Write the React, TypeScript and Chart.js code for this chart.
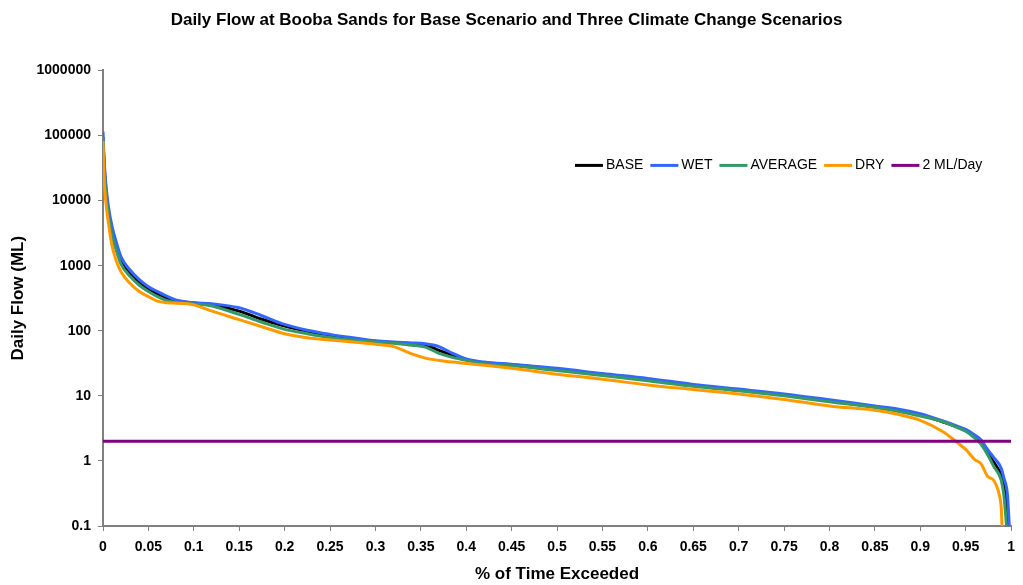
import React, { useEffect, useRef } from "react";
import { Chart, registerables } from "chart.js";

Chart.register(...registerables);

// Exceedance probabilities shared by the body of every flow-duration curve
const EXCEEDANCE = [
  0, 0.001, 0.003, 0.006, 0.01, 0.015, 0.02, 0.03, 0.04, 0.05, 0.06, 0.07, 0.08, 0.09, 0.1,
  0.12, 0.15, 0.175, 0.2, 0.225, 0.25, 0.275, 0.3, 0.32, 0.34, 0.355, 0.37, 0.385, 0.4, 0.42,
  0.45, 0.5, 0.55, 0.6, 0.65, 0.7, 0.75, 0.8, 0.85, 0.875, 0.9, 0.925, 0.94, 0.95,
];

// Daily flow (ML) for each scenario at the exceedance values above
const BASE_FLOW = [
  95000, 40000, 15000, 6500, 3300, 1800, 1150, 740, 550, 430, 370, 320, 290, 277, 266,
  250, 200, 150, 118, 98, 85, 76, 69, 66, 63, 60, 50, 42, 36, 32,
  30, 25.5, 21, 17.5, 14.5, 12.3, 10.3, 8.3, 6.8, 6.0, 5.1, 3.95, 3.35, 2.95,
];
const WET_FLOW = [
  115000, 50000, 19000, 8000, 4000, 2200, 1350, 850, 610, 475, 400, 340, 298, 280, 270,
  260, 225, 170, 125, 102, 88, 78, 70, 67, 65, 63, 57, 45, 37, 33,
  30.5, 26.5, 22, 18.5, 15, 12.7, 10.7, 8.7, 7.0, 6.3, 5.3, 4.1, 3.45, 3.05,
];
const AVERAGE_FLOW = [
  95000, 35000, 13000, 5800, 2900, 1650, 1050, 680, 500, 400, 335, 292, 272, 265, 258,
  240, 178, 135, 105, 90, 79, 72, 67, 64, 60, 56, 45, 39, 35, 31,
  29, 24.5, 20.5, 17, 14, 12, 10, 8.1, 6.6, 5.8, 4.9, 4.0, 3.3, 2.85,
];
const DRY_FLOW = [
  82000, 25000, 10000, 4500, 2000, 1150, 800, 530, 400, 335, 285, 270, 265, 262, 250,
  200, 148, 115, 90, 78, 72, 67, 62, 57, 44, 38, 35, 33, 31.5, 29.5,
  26.5, 21.5, 18, 14.7, 12.5, 10.7, 8.8, 7.0, 6.0, 5.2, 4.2, 2.8, 1.95, 1.5,
];

// Low-flow tails, where each scenario falls away at its own exceedance
const BASE_TAIL_X = [0.96, 0.967, 0.974, 0.981, 0.989, 0.992, 0.994, 0.996];
const BASE_TAIL = [2.4, 1.95, 1.35, 0.95, 0.6, 0.4, 0.25, 0.1];
const WET_TAIL_X = [0.96, 0.967, 0.974, 0.981, 0.989, 0.992, 0.996, 0.998];
const WET_TAIL = [2.5, 2.1, 1.5, 1.12, 0.78, 0.55, 0.3, 0.1];
const AVERAGE_TAIL_X = [0.959, 0.967, 0.974, 0.981, 0.989, 0.992, 0.995];
const AVERAGE_TAIL = [2.3, 1.8, 1.25, 0.82, 0.51, 0.3, 0.1];
const DRY_TAIL_X = [0.96, 0.967, 0.974, 0.981, 0.987, 0.989, 0.99];
const DRY_TAIL = [1.05, 0.9, 0.58, 0.5, 0.3, 0.2, 0.1];

// Environmental flow threshold line
const THRESHOLD_X = [0, 1];
const THRESHOLD_FLOW = [2, 2];

const SERIES_LABELS = ["BASE", "WET", "AVERAGE", "DRY", "2 ML/Day"];
const SERIES_COLORS = ["#000000", "#3366FF", "#339966", "#FF9900", "#800080"];

const X_TICKS = [
  0, 0.05, 0.1, 0.15, 0.2, 0.25, 0.3, 0.35, 0.4, 0.45, 0.5,
  0.55, 0.6, 0.65, 0.7, 0.75, 0.8, 0.85, 0.9, 0.95, 1,
];
const Y_TICKS = [0.1, 1, 10, 100, 1000, 10000, 100000, 1000000];

const FONT = "'Liberation Sans', Arial, Helvetica, sans-serif";

function toPoints(xs: number[], ys: number[], tailX: number[] = [], tailY: number[] = []) {
  const body = xs.map((x, i) => ({ x, y: ys[i] }));
  const tail = tailX.map((x, i) => ({ x, y: tailY[i] }));
  return body.concat(tail);
}

// Legend drawn inside the plot area as a single row of line keys
const insideLegend = {
  id: "insideLegend",
  afterDraw(chart: any) {
    const { ctx, chartArea } = chart;
    ctx.save();
    ctx.font = `14px ${FONT}`;
    ctx.textBaseline = "middle";
    ctx.textAlign = "left";
    let x = chartArea.left + 472;
    const y = chartArea.top + 95;
    chart.data.datasets.forEach((ds: any) => {
      ctx.strokeStyle = ds.borderColor;
      ctx.lineWidth = 3;
      ctx.beginPath();
      ctx.moveTo(x, y);
      ctx.lineTo(x + 28, y);
      ctx.stroke();
      x += 31;
      ctx.fillStyle = "#000";
      ctx.fillText(ds.label, x, y);
      x += ctx.measureText(ds.label).width + 7;
    });
    ctx.restore();
  },
};

export default function App() {
  const canvasRef = useRef<HTMLCanvasElement | null>(null);

  useEffect(() => {
    if (!canvasRef.current) return;
    Chart.defaults.font.family = FONT;
    Chart.defaults.color = "#000";

    const seriesData = [
      toPoints(EXCEEDANCE, BASE_FLOW, BASE_TAIL_X, BASE_TAIL),
      toPoints(EXCEEDANCE, WET_FLOW, WET_TAIL_X, WET_TAIL),
      toPoints(EXCEEDANCE, AVERAGE_FLOW, AVERAGE_TAIL_X, AVERAGE_TAIL),
      toPoints(EXCEEDANCE, DRY_FLOW, DRY_TAIL_X, DRY_TAIL),
      toPoints(THRESHOLD_X, THRESHOLD_FLOW),
    ];

    const chart = new Chart(canvasRef.current, {
      type: "line",
      data: {
        datasets: seriesData.map((data, i) => ({
          label: SERIES_LABELS[i],
          data,
          borderColor: SERIES_COLORS[i],
          backgroundColor: SERIES_COLORS[i],
          borderWidth: 3,
          pointRadius: 0,
          fill: false,
          cubicInterpolationMode: "monotone",
          // later series sit on top of earlier ones
          order: SERIES_LABELS.length - i,
        })),
      },
      options: {
        animation: false,
        responsive: true,
        maintainAspectRatio: false,
        devicePixelRatio: 1,
        layout: { padding: { left: 0, right: 10, top: 0, bottom: 0 } },
        plugins: {
          legend: { display: false },
          tooltip: { enabled: false },
          title: {
            display: true,
            text: "Daily Flow at Booba Sands for Base Scenario and Three Climate Change Scenarios",
            font: { size: 17, weight: "bold" },
            color: "#000",
            padding: { top: 10, bottom: 40 },
          },
        },
        scales: {
          x: {
            type: "linear",
            min: 0,
            max: 1,
            afterBuildTicks: (scale: any) => {
              scale.ticks = X_TICKS.map((value) => ({ value }));
            },
            afterFit: (scale: any) => {
              scale.height = 59;
            },
            ticks: {
              autoSkip: false,
              maxRotation: 0,
              padding: 8,
              color: "#000",
              font: { size: 14, weight: "bold" },
              callback: (v: any) => String(Math.round(Number(v) * 100) / 100),
            },
            grid: {
              display: true,
              drawOnChartArea: false,
              drawTicks: true,
              tickLength: 5,
              color: "#808080",
              lineWidth: 1,
            },
            border: { display: true, color: "#808080", width: 2 },
            title: {
              display: true,
              text: "% of Time Exceeded",
              color: "#000",
              font: { size: 17, weight: "bold" },
              padding: { top: 0, bottom: 0 },
            },
          },
          y: {
            type: "logarithmic",
            min: 0.1,
            max: 1000000,
            afterBuildTicks: (scale: any) => {
              scale.ticks = Y_TICKS.map((value) => ({ value }));
            },
            afterFit: (scale: any) => {
              scale.width = 103;
            },
            ticks: {
              padding: 7,
              color: "#000",
              font: { size: 14, weight: "bold" },
              callback: (v: any) => String(v),
            },
            grid: {
              display: true,
              drawOnChartArea: false,
              drawTicks: true,
              tickLength: 5,
              color: "#808080",
              lineWidth: 1,
            },
            border: { display: true, color: "#808080", width: 2 },
            title: {
              display: true,
              text: "Daily Flow (ML)",
              color: "#000",
              font: { size: 17, weight: "bold" },
              padding: { top: 8, bottom: 0 },
            },
          },
        },
      },
      plugins: [insideLegend],
    });

    return () => chart.destroy();
  }, []);

  return (
    <div style={{ position: "absolute", left: 0, top: 0, width: 1023, height: 585, background: "#fff" }}>
      <canvas ref={canvasRef} />
    </div>
  );
}
